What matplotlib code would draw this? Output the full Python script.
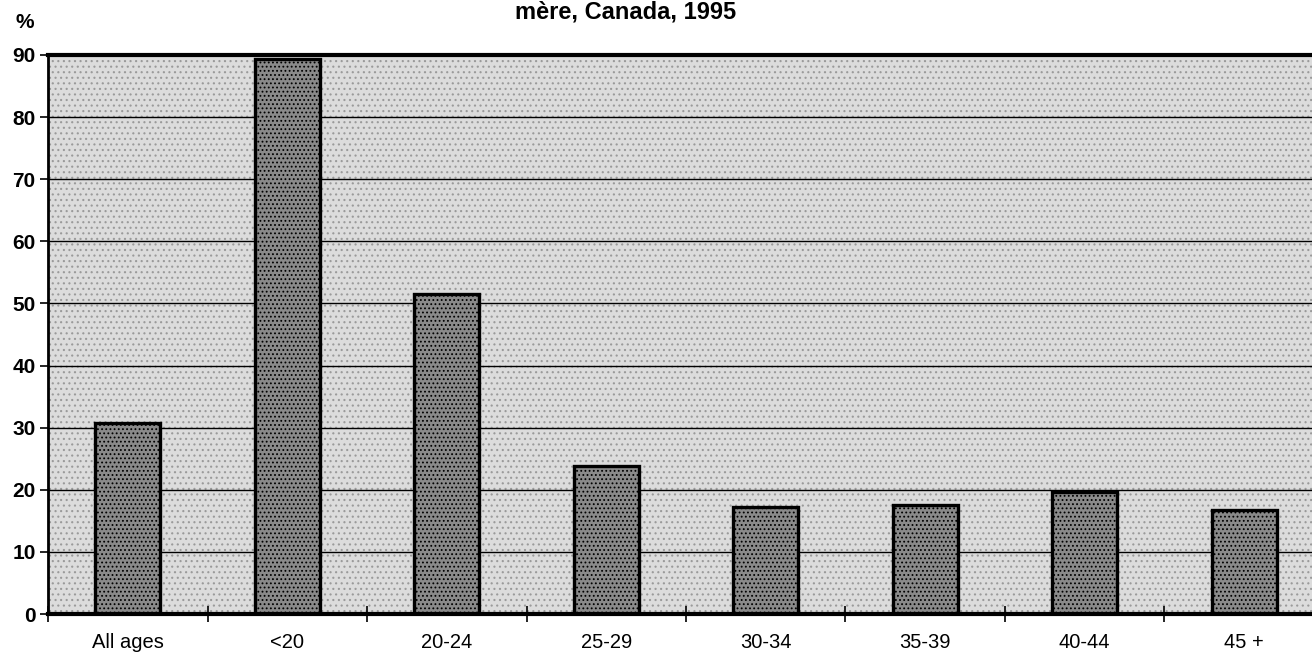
import matplotlib.pyplot as plt
from matplotlib.patches import Rectangle
import numpy as np

categories = ['All ages', '<20', '20-24', '25-29', '30-34', '35-39', '40-44', '45 +']
values = [30.7, 89.3, 51.6, 23.8, 17.2, 17.6, 19.6, 16.8]
title = 'mère, Canada, 1995'

plt.rcParams['font.family'] = ['Liberation Sans', 'DejaVu Sans']
plt.rcParams['hatch.color'] = '#6a6a6a'
plt.rcParams['hatch.linewidth'] = 0.8

fig = plt.figure(figsize=(13.12, 6.57), dpi=100)
# plot area runs past the right edge of the figure, like the cropped scan
ax = fig.add_axes([48 / 1312, 43 / 657, 1276 / 1312, 559 / 657])

x = np.arange(len(categories))
ax.set_facecolor('#dcdcdc')
# dotted backdrop
ax.add_patch(Rectangle((0, 0), 1, 1, transform=ax.transAxes, facecolor='none',
                       edgecolor='#9a9a9a', hatch='...', lw=0, zorder=0.5))
for y in range(10, 90, 10):
    ax.axhline(y, color='black', lw=1.0, zorder=1)
ax.bar(x, values, width=0.41, color='#8a8a8a', edgecolor='black', linewidth=2.4,
       hatch='....', zorder=2)

ax.set_xlim(-0.5, len(categories) - 0.5)
ax.set_ylim(0, 90)

ax.set_yticks(range(0, 91, 10))
ax.set_yticklabels([str(v) for v in range(0, 91, 10)], fontsize=15, fontweight='bold')
ax.tick_params(axis='y', length=6, width=1.2, pad=3)

ax.set_xticks(np.arange(-0.5, len(categories), 1.0))
ax.set_xticklabels([])
ax.tick_params(axis='x', which='major', direction='inout', length=12, width=1.2)
ax.set_xticks(x, minor=True)
ax.set_xticklabels(categories, minor=True, fontsize=14.5)
ax.tick_params(axis='x', which='minor', length=0, pad=14)

ax.spines['top'].set_linewidth(3)
ax.spines['bottom'].set_linewidth(3)
ax.spines['left'].set_linewidth(2)
ax.spines['right'].set_visible(False)

fig.text(626 / 1312, 1 - 12 / 657, title, ha='center', va='center',
         fontsize=17, fontweight='bold')
fig.text(25 / 1312, 1 - 22 / 657, '%', ha='center', va='center',
         fontsize=15, fontweight='bold')

fig.savefig('out.png', dpi=100)
